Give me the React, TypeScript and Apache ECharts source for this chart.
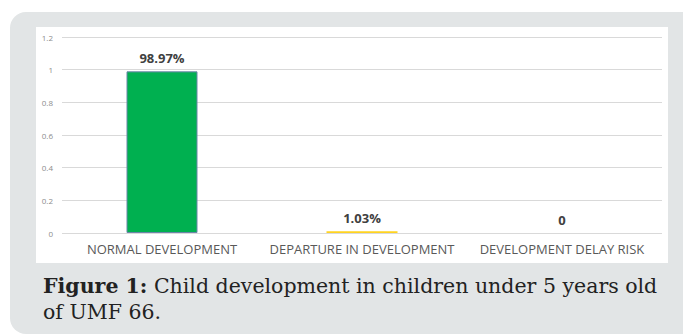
import React, { useEffect, useRef } from "react";
import * as echarts from "echarts";

const categories = ["NORMAL DEVELOPMENT", "DEPARTURE IN DEVELOPMENT", "DEVELOPMENT DELAY RISK"];
const values = [0.9897, 0.0103, 0];
const valueLabels = ["98.97%", "1.03%", "0"];
const barColors = ["#00b050", "#ffd320", "#a5a5a5"];
const captionBold = "Figure 1:";
const captionLine1 = " Child development in children under 5 years old";
const captionLine2 = "of UMF 66.";

export default function App() {
  const ref = useRef<HTMLDivElement>(null);
  useEffect(() => {
    if (!ref.current) return;
    const chart = echarts.init(ref.current, undefined, { renderer: "svg" });
    chart.setOption({
      animation: false,
      backgroundColor: "#ffffff",
      graphic: [
        {
          type: "rect",
          z: -10,
          silent: true,
          shape: { x: 10, y: 12, width: 700, height: 322, r: 16 },
          style: { fill: "#e2e5e6" },
        },
        {
          type: "rect",
          z: -9,
          silent: true,
          shape: { x: 36, y: 27, width: 632, height: 236 },
          style: { fill: "#ffffff" },
        },
        {
          type: "text",
          x: 43,
          y: 273,
          style: {
            text: `{b|${captionBold}}{n|${captionLine1}}\n{n|${captionLine2}}`,
            rich: {
              b: { fontFamily: "DejaVu Serif", fontSize: 20.5, fontWeight: "bold", fill: "#222", lineHeight: 26 },
              n: { fontFamily: "DejaVu Serif", fontSize: 20.5, fill: "#222", lineHeight: 26 },
            },
          },
        },
      ],
      grid: { left: 62, right: 21, top: 37, bottom: 102 },
      xAxis: {
        type: "category",
        data: categories,
        axisLine: { show: false },
        axisTick: { show: false },
        axisLabel: { color: "#595959", fontSize: 13, fontFamily: "Open Sans", margin: 9, interval: 0 },
      },
      yAxis: {
        type: "value",
        min: 0,
        max: 1.2,
        interval: 0.2,
        axisLine: { show: false },
        axisTick: { show: false },
        axisLabel: { color: "#8c8c8c", fontSize: 8, fontFamily: "Open Sans", margin: 9 },
        splitLine: { lineStyle: { color: "#d9d9d9", width: 1 } },
      },
      series: [
        {
          type: "bar",
          barWidth: 71,
          data: values.map((v, i) => ({
            value: v,
            itemStyle: {
              color: barColors[i],
              borderColor: i === 0 ? "#6b86a8" : barColors[i],
              borderWidth: i === 0 ? 1 : 0,
            },
          })),
          label: {
            show: true,
            position: "top",
            distance: 7,
            color: "#404040",
            fontWeight: "bold",
            fontSize: 13,
            fontFamily: "Open Sans",
            formatter: (p: any) => valueLabels[p.dataIndex],
          },
        },
      ],
    });
    return () => chart.dispose();
  }, []);
  return (
    <div
      ref={ref}
      style={{ position: "fixed", left: 0, top: 0, width: 683, height: 335 }}
    />
  );
}
